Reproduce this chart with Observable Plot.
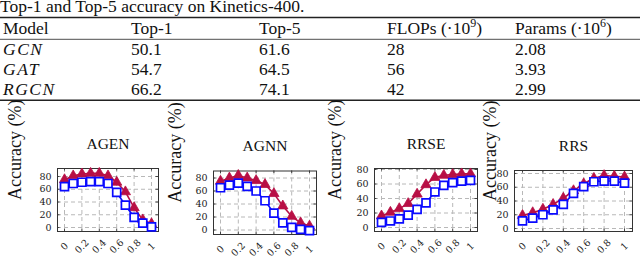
<!DOCTYPE html>
<html><head><meta charset="utf-8">
<script src="https://cdn.jsdelivr.net/npm/d3@7"></script>
<script src="https://cdn.jsdelivr.net/npm/@observablehq/plot@0.6"></script>
<style>
html,body{margin:0;padding:0;background:#fff;}
#root{position:relative;width:640px;height:270px;overflow:hidden;background:#fff;}
#root svg{position:absolute;left:0;top:0;}
</style></head><body><div id="root"></div>
<script>
// ---- table data ----
const tableCaption = "Top-1 and Top-5 accuracy on Kinetics-400.";
const headerLabels = ["Model", "Top-1", "Top-5", "FLOPs (·10", "Params (·10"];
const headerSups = ["", "", "", "9", "6"];
const headerTails = ["", "", "", ")", ")"];
const modelNames = ["GCN", "GAT", "RGCN"];
const top1Values = ["50.1", "54.7", "66.2"];
const top5Values = ["61.6", "64.5", "74.1"];
const flopsValues = ["28", "56", "42"];
const paramsValues = ["2.08", "3.93", "2.99"];

// ---- chart data ----
const ratios = [0, 0.1, 0.2, 0.3, 0.4, 0.5, 0.6, 0.7, 0.8, 0.9, 1];
const xTicks = [0, 0.2, 0.4, 0.6, 0.8, 1];
const yTicks = [0, 20, 40, 60, 80];
const panelTitles = ["AGEN", "AGNN", "RRSE", "RRS"];
const yAxisLabel = "Accuracy (%)";
const agenTriangle = [75, 81, 84, 85, 85, 81, 71, 56, 31, 12, 6];
const agenSquare   = [64, 69, 71, 72, 72, 69, 55, 35, 16, 7, 1];
const agnnTriangle = [75, 80, 84, 80, 76, 70, 56, 37, 21, 11, 6];
const agnnSquare   = [65, 69, 72, 67, 60, 45, 26, 11, 4, 1, -1];
const rrseTriangle = [16, 21, 26, 33, 46, 59, 69, 72, 73, 74, 74];
const rrseSquare   = [7, 9, 12, 17, 25, 34, 49, 58, 62, 64, 65];
const rrsTriangle  = [19, 23, 28, 35, 44, 55, 65, 73, 77, 76, 75];
const rrsSquare    = [11, 15, 20, 27, 35, 51, 61, 68, 69, 69, 66];

const triangleSeries = [agenTriangle, agnnTriangle, rrseTriangle, rrsTriangle];
const squareSeries = [agenSquare, agnnSquare, rrseSquare, rrsSquare];

// ---- layout (pixels) ----
const frames = [
  {left: 57, right: 158, top: 168, bottom: 231, zeroY: 227, eightyY: 176, inset: 7, labelX: 15},
  {left: 213, right: 316, top: 170.5, bottom: 234, zeroY: 229.5, eightyY: 177.5, inset: 7, labelX: 175},
  {left: 374, right: 477, top: 168, bottom: 231, zeroY: 227, eightyY: 169, inset: 7, labelX: 335},
  {left: 514, right: 632, top: 170, bottom: 231, zeroY: 228, eightyY: 173, inset: 8, labelX: 490}
];
const redColor = "#b80f45";
const blueColor = "#0a0aff";
const serif = "Liberation Serif, Times New Roman, serif";
const tickFont = "DejaVu Serif, serif";

const root = document.getElementById("root");

// ---- table ----
const tsvg = d3.select(root).append("svg").attr("width", 640).attr("height", 130);
const addText = (x, y, s) => tsvg.append("text").attr("x", x).attr("y", y)
  .attr("font-family", serif).attr("font-size", 17.5).attr("fill", "#111").text(s);
addText(0, 12, tableCaption);
const colX = [3, 131, 259, 387, 515];
[[17.5, 1.4], [39.3, 0.8], [100.3, 1.4]].forEach(([y, w]) => {
  tsvg.append("line").attr("x1", 0).attr("x2", 640).attr("y1", y).attr("y2", y)
    .attr("stroke", "#222").attr("stroke-width", w);
});
headerLabels.forEach((h, i) => {
  const t = addText(colX[i], 34, null);
  t.append("tspan").text(h);
  if (headerSups[i]) {
    t.append("tspan").attr("dy", -7).attr("font-size", 12).text(headerSups[i]);
    t.append("tspan").attr("dy", 7).text(headerTails[i]);
  }
});
const rowY = [55, 75, 94.5];
modelNames.forEach((m, r) => {
  const cells = [m, top1Values[r], top5Values[r], flopsValues[r], paramsValues[r]];
  cells.forEach((c, i) => {
    const t = addText(colX[i], rowY[r], c);
    if (i === 0) t.attr("font-style", "italic").attr("letter-spacing", 1.5);
  });
});

// ---- panels ----
frames.forEach((f, p) => {
  const k = (f.zeroY - f.eightyY) / 80;
  const yDomain = [(f.zeroY - f.bottom) / k, (f.zeroY - f.top) / k];
  const w = f.right - f.left;
  const xu = 1 / (w - 2 * f.inset);
  const xLeft = -f.inset * xu, xRight = 1 + f.inset * xu;
  const data = ratios.map((r, i) => ({r, tri: triangleSeries[p][i], sq: squareSeries[p][i]}));
  const tl = 2.5;
  const chart = Plot.plot({
    width: 640, height: 270,
    marginLeft: f.left, marginRight: 640 - f.right, marginTop: f.top, marginBottom: 270 - f.bottom,
    style: {background: "transparent", overflow: "visible", fontFamily: serif},
    x: {domain: [0, 1], insetLeft: f.inset, insetRight: f.inset},
    y: {domain: yDomain},
    marks: [
      Plot.gridX(xTicks, {stroke: "#b8b8b8", strokeOpacity: 1, strokeDasharray: "4,3"}),
      Plot.gridY(yTicks, {stroke: "#b8b8b8", strokeOpacity: 1, strokeDasharray: "4,3"}),
      Plot.ruleX(xTicks, {x: d => d, y1: yDomain[0], y2: yDomain[0] + tl / k, stroke: "#444"}),
      Plot.ruleX(xTicks, {x: d => d, y1: yDomain[1] - tl / k, y2: yDomain[1], stroke: "#444"}),
      Plot.ruleY(yTicks, {y: d => d, x1: xLeft, x2: xLeft + tl * xu, stroke: "#444"}),
      Plot.ruleY(yTicks, {y: d => d, x1: xRight - tl * xu, x2: xRight, stroke: "#444"}),
      Plot.frame({stroke: "#333", strokeWidth: 1}),
      Plot.axisY({ticks: yTicks, tickSize: 0, tickPadding: 6, fontSize: 9.5, fontFamily: tickFont, label: null, fill: "#222"}),
      Plot.axisX({ticks: xTicks, tickSize: 0, tickPadding: 15, tickRotate: -45, textAnchor: "middle", lineAnchor: "middle",
        fontSize: 9.5, fontFamily: tickFont, label: null, fill: "#222", tickFormat: d => String(d)}),
      Plot.line(data, {x: "r", y: "tri", stroke: redColor, strokeWidth: 1.6}),
      Plot.dot(data, {x: "r", y: "tri", symbol: "triangle", r: 3.8, fill: redColor, stroke: redColor, strokeWidth: 0.8}),
      Plot.line(data, {x: "r", y: "sq", stroke: blueColor, strokeWidth: 1.6}),
      Plot.dot(data, {x: "r", y: "sq", symbol: "square", r: 4.5, fill: "white", stroke: blueColor, strokeWidth: 1.7}),
      Plot.text([panelTitles[p]], {text: d => d, frameAnchor: "top", dy: -20, lineAnchor: "bottom", fontSize: 15.5, fontFamily: serif, fill: "#111"}),
      Plot.text([yAxisLabel], {text: d => d, frameAnchor: "left", dx: f.labelX - f.left, rotate: -90, fontSize: 18, fontFamily: serif, fill: "#111"})
    ]
  });
  root.appendChild(chart);
});
</script></body></html>
